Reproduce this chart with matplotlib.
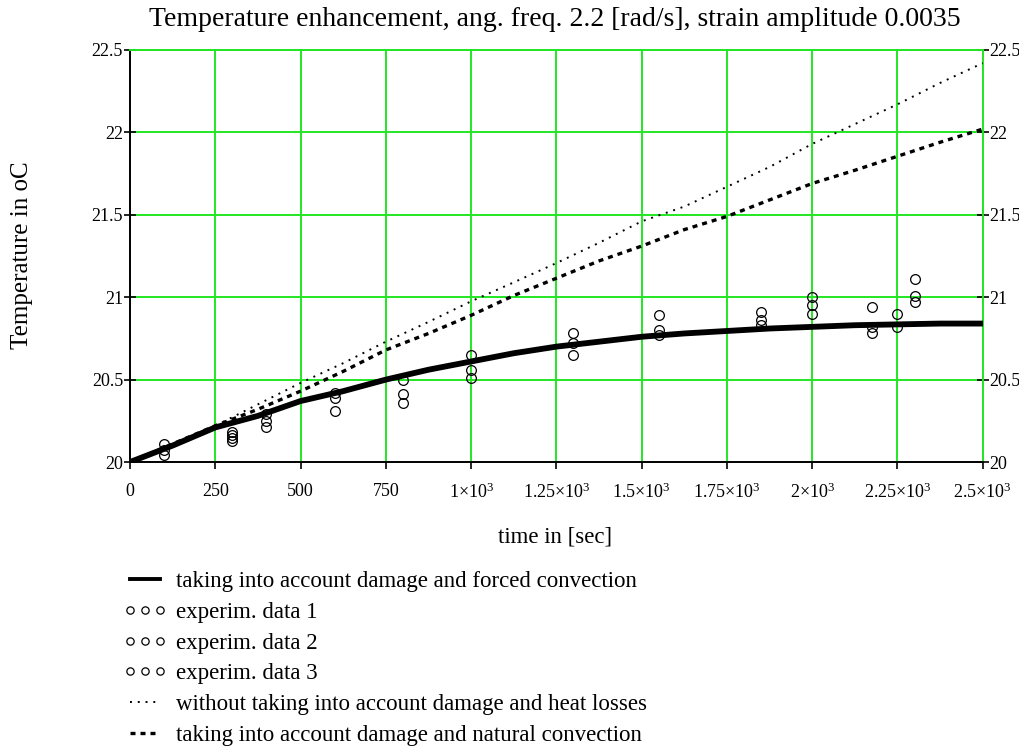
import numpy as np
from matplotlib import pyplot as plt
from matplotlib.ticker import FixedLocator, FixedFormatter

plt.rcParams['font.family'] = ['Liberation Serif', 'DejaVu Serif']
plt.rcParams['mathtext.fontset'] = 'custom'
plt.rcParams['mathtext.rm'] = 'Liberation Serif'
plt.rcParams['mathtext.default'] = 'regular'

"MODEL CURVES (read off the picture)"
t_model = [0, 125, 250, 375, 500, 625, 750, 875, 1000, 1125, 1250, 1375, 1500,
           1625, 1750, 1875, 2000, 2125, 2250, 2375, 2500]
T_forced = [20.0, 20.10, 20.21, 20.28, 20.37, 20.43, 20.50, 20.56, 20.61, 20.66, 20.70,
            20.73, 20.76, 20.78, 20.795, 20.81, 20.82, 20.83, 20.835, 20.84, 20.84]
T_noloss = [20.0, 20.11, 20.22, 20.35, 20.48, 20.60, 20.73, 20.85, 20.975, 21.09, 21.207,
            21.33, 21.46, 21.55, 21.67, 21.79, 21.93, 22.05, 22.17, 22.30, 22.42]
T_natural = [20.0, 20.11, 20.22, 20.32, 20.43, 20.55, 20.68, 20.78, 20.89, 21.01, 21.115,
             21.22, 21.31, 21.41, 21.49, 21.59, 21.69, 21.77, 21.855, 21.94, 22.02]

"EXPERIMENTAL DATA"
t_exp1 = [100, 300, 300, 400, 600, 800, 1000, 1300, 1550, 1850, 2000, 2175, 2300]
T_exp1 = [20.11, 20.185, 20.125, 20.29, 20.42, 20.50, 20.65, 20.78, 20.89, 20.91, 21.00, 20.94, 21.11]
t_exp2 = [100, 300, 400, 600, 800, 1000, 1300, 1550, 1850, 2000, 2175, 2250, 2300]
T_exp2 = [20.07, 20.165, 20.25, 20.39, 20.41, 20.56, 20.72, 20.80, 20.86, 20.95, 20.82, 20.90, 21.01]
t_exp3 = [100, 300, 400, 600, 800, 1000, 1300, 1550, 1850, 2000, 2175, 2250, 2300]
T_exp3 = [20.04, 20.145, 20.21, 20.31, 20.36, 20.51, 20.65, 20.77, 20.83, 20.90, 20.78, 20.82, 20.97]

x_ticks = [0, 250, 500, 750, 1000, 1250, 1500, 1750, 2000, 2250, 2500]
x_labels = ['0', '250', '500', '750', r'1×10$^{3}$', r'1.25×10$^{3}$', r'1.5×10$^{3}$',
            r'1.75×10$^{3}$', r'2×10$^{3}$', r'2.25×10$^{3}$', r'2.5×10$^{3}$']
y_ticks = [20, 20.5, 21, 21.5, 22, 22.5]
y_labels = ['20', '20.5', '21', '21.5', '22', '22.5']

grid_col = '#22e622'
fs = 13

fig = plt.figure(figsize=(10.2, 7.52), dpi=100)
ax = fig.add_axes([0.1275, 0.3856, 0.836, 0.548])

l1, = ax.plot(t_model, T_forced, color='k', lw=4.2, solid_joinstyle='miter',
              label='taking into account damage and forced convection', zorder=4)
m1, = ax.plot(t_exp1, T_exp1, 'o', mfc='none', mec='k', ms=7, mew=0.9,
              label='experim. data 1', zorder=5)
m2, = ax.plot(t_exp2, T_exp2, 'o', mfc='none', mec='k', ms=7, mew=0.9,
              label='experim. data 2', zorder=5)
m3, = ax.plot(t_exp3, T_exp3, 'o', mfc='none', mec='k', ms=7, mew=0.9,
              label='experim. data 3', zorder=5)
l2, = ax.plot(t_model, T_noloss, color='k', lw=1.4, linestyle=(0, (1, 3)),
              label='without taking into account damage and heat losses', zorder=3)
l3, = ax.plot(t_model, T_natural, color='k', lw=2.4, linestyle=(0, (1.5, 1.5)),
              label='taking into account damage and natural convection', zorder=3)

ax.set_xlim(0, 2500)
ax.set_ylim(20, 22.5)
ax.xaxis.set_major_locator(FixedLocator(x_ticks))
ax.xaxis.set_major_formatter(FixedFormatter(x_labels))
ax.yaxis.set_major_locator(FixedLocator(y_ticks))
ax.yaxis.set_major_formatter(FixedFormatter(y_labels))
ax.grid(True, color=grid_col, lw=1.4, zorder=0)
ax.set_axisbelow(True)

for s in ['top', 'right']:
    ax.spines[s].set_color(grid_col)
    ax.spines[s].set_linewidth(1.4)
for s in ['left', 'bottom']:
    ax.spines[s].set_color('k')
    ax.spines[s].set_linewidth(1.4)

ax.tick_params(axis='x', direction='out', length=5, width=1.2, labelsize=fs, pad=10)
ax.tick_params(axis='y', which='both', direction='inout', length=8, width=1.2,
               labelsize=fs, pad=1, right=True, labelright=True)

fig.text(555/1020, 1 - 19/752,
         'Temperature enhancement, ang. freq. 2.2 [rad/s], strain amplitude 0.0035',
         fontsize=20, ha='center', va='center')
fig.text(555/1020, 1 - 537/752, 'time in [sec]', fontsize=16.5, ha='center', va='center')
fig.text(22/1020, 1 - 255/752, 'Temperature in oC', fontsize=18, ha='center',
         va='center', rotation=90)

leg = fig.legend(handles=[l1, m1, m2, m3, l2, l3], loc='upper left',
                 bbox_to_anchor=(114/1020, 1 - 562/752), frameon=False, fontsize=16.5,
                 numpoints=3, markerscale=0.75, handlelength=1.9, handletextpad=0.4,
                 labelspacing=0.42, borderaxespad=0)
leg.get_lines()[0].set_linewidth(2.8)

fig.savefig('out.png', dpi=100)
